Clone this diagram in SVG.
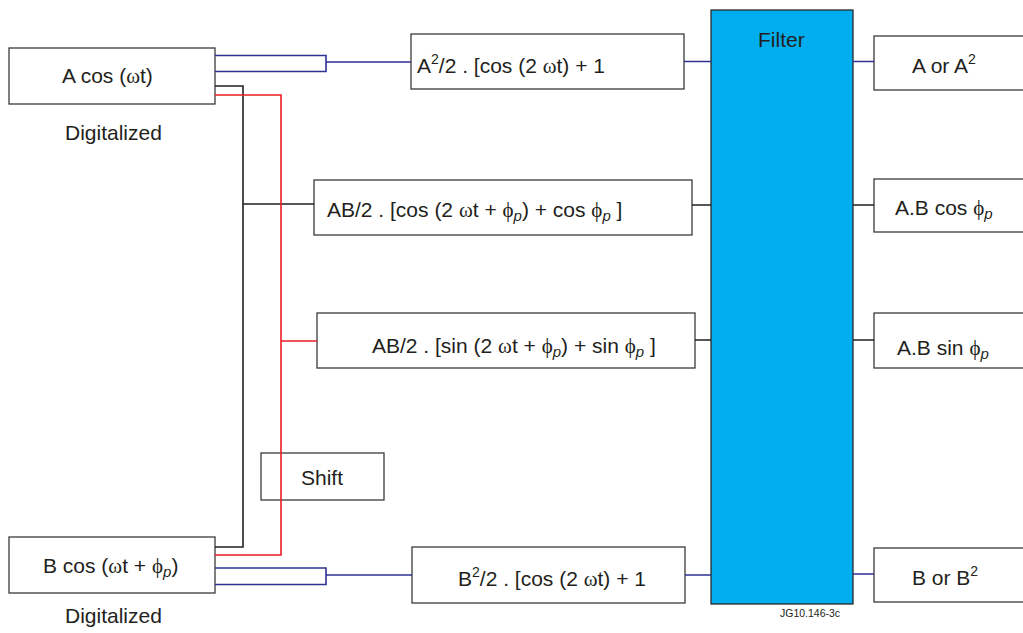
<svg xmlns="http://www.w3.org/2000/svg" width="1023" height="633" viewBox="0 0 1023 633">
<style>
.box{fill:#fff;stroke:#3a3a3a;stroke-width:1.3}
.flt{fill:#00adee;stroke:#2a2a2a;stroke-width:1.3}
.t{font-family:"Liberation Sans",Arial,sans-serif;font-size:21px;fill:#231f20}
.s{font-family:"Liberation Serif","DejaVu Serif",serif}
.i{font-style:italic;font-size:15px}
.sup{font-size:14px}
.sm{font-family:"Liberation Sans",Arial,sans-serif;font-size:10.5px;fill:#231f20}
.blue{fill:none;stroke:#2e3192;stroke-width:1.6}
.blk{fill:none;stroke:#231f20;stroke-width:1.6}
.red{fill:none;stroke:#ed1c24;stroke-width:1.6}
</style>
<rect width="1023" height="633" fill="#fff"/>
<g id="nodeA"><rect class="box" x="9" y="48" width="206" height="56"/>
<text class="t" x="62" y="83">A cos (<tspan class="s">ω</tspan>t)</text></g>
<g id="labelA"><text class="t" x="65" y="140">Digitalized</text></g>
<g id="nodeB"><rect class="box" x="9" y="537" width="206" height="56"/>
<text class="t" x="43" y="573">B cos (<tspan class="s">ω</tspan>t + <tspan class="s">ϕ</tspan><tspan class="i" dy="4">p</tspan><tspan dy="-4">)</tspan></text></g>
<g id="labelB"><text class="t" x="65" y="623">Digitalized</text></g>
<g id="nodeA2"><rect class="box" x="411" y="34" width="273" height="55"/>
<text class="t" x="417" y="73">A<tspan class="sup" dy="-9">2</tspan><tspan dy="9">/2 . [cos (2 </tspan><tspan class="s">ω</tspan>t) + 1</text></g>
<g id="nodeABcos"><rect class="box" x="314" y="180" width="378" height="55"/>
<text class="t" x="327" y="217">AB/2 . [cos (2 <tspan class="s">ω</tspan>t + <tspan class="s">ϕ</tspan><tspan class="i" dy="4">p</tspan><tspan dy="-4">) + cos </tspan><tspan class="s">ϕ</tspan><tspan class="i" dy="4">p</tspan><tspan dy="-4"> ]</tspan></text></g>
<g id="nodeABsin"><rect class="box" x="317" y="313" width="378" height="55"/>
<text class="t" x="372" y="353">AB/2 . [sin (2 <tspan class="s">ω</tspan>t + <tspan class="s">ϕ</tspan><tspan class="i" dy="4">p</tspan><tspan dy="-4">) + sin </tspan><tspan class="s">ϕ</tspan><tspan class="i" dy="4">p</tspan><tspan dy="-4"> ]</tspan></text></g>
<g id="nodeShift"><rect class="box" x="261" y="453" width="123" height="47"/>
<text class="t" x="301" y="485">Shift</text></g>
<g id="nodeB2"><rect class="box" x="412" y="547" width="273" height="56"/>
<text class="t" x="458" y="586">B<tspan class="sup" dy="-9">2</tspan><tspan dy="9">/2 . [cos (2 </tspan><tspan class="s">ω</tspan>t) + 1</text></g>
<g id="nodeFilter"><rect class="flt" x="711" y="10" width="142" height="594"/>
<text class="t" x="758" y="47">Filter</text></g>
<g id="outA"><rect class="box" x="874" y="36" width="160" height="54"/>
<text class="t" x="912" y="73">A or A<tspan class="sup" dy="-9">2</tspan></text></g>
<g id="outCos"><rect class="box" x="874" y="179" width="160" height="53"/>
<text class="t" x="895" y="215">A.B cos <tspan class="s">ϕ</tspan><tspan class="i" dy="4">p</tspan></text></g>
<g id="outSin"><rect class="box" x="874" y="313" width="160" height="55"/>
<text class="t" x="897" y="355">A.B sin <tspan class="s">ϕ</tspan><tspan class="i" dy="4">p</tspan></text></g>
<g id="outB"><rect class="box" x="874" y="548" width="160" height="54"/>
<text class="t" x="912" y="585">B or B<tspan class="sup" dy="-9">2</tspan></text></g>
<text class="sm" x="780" y="617">JG10.146-3c</text>
<g id="connectors">
<path class="blue" d="M215 55.5H326V71.5H215M326 62H411"/>
<path class="blue" d="M215 568H326V584.5H215M326 575H412"/>
<path class="blk" d="M215 86H243V547H215M243 204H314"/>
<path class="red" d="M215 95H281V555H215M281 341H317"/>
<path class="blue" d="M684 61.5H711M853 61.5H874M685 575H711M853 574H874"/>
<path class="blk" d="M692 205H711M695 340H711M853 205H874M853 340H874"/>
</g>
</svg>
